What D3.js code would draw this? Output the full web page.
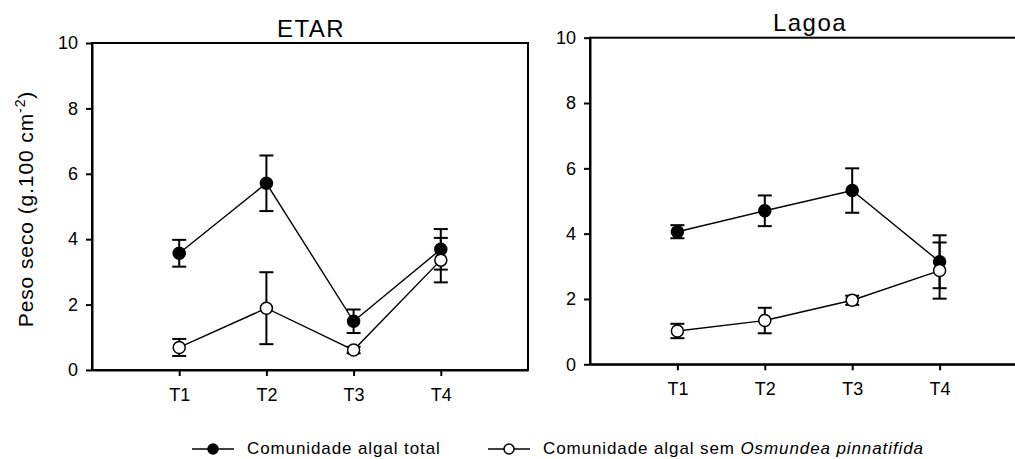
<!DOCTYPE html>
<html lang="en">
    <head>
        <meta charset="UTF-8" />
        <title>Peso seco - ETAR e Lagoa</title>
        <style>
            body {
                margin: 0;
                background: #fff;
                font-family: 'Liberation Sans', Arial, sans-serif;
            }

            .axis path,
            .axis line {
                stroke: #000;
                stroke-width: 2px;
            }

            .axis text {
                font: 18px 'Liberation Sans', Arial, sans-serif;
                fill: #000;
            }

            .frame {
                fill: none;
                stroke: #000;
                stroke-width: 2px;
            }

            .series-line {
                fill: none;
                stroke: #000;
                stroke-width: 1.4px;
            }

            .err {
                stroke: #000;
                stroke-width: 2px;
            }
        </style>
    </head>

    <body>
        <svg width="1015" height="459"></svg>
        <script src="https://d3js.org/d3.v7.min.js"></script>
        <script>
            // values
            const times = ['T1', 'T2', 'T3', 'T4'];
            const yTicks = [0, 2, 4, 6, 8, 10];

            const etarTotal = [3.57, 5.71, 1.49, 3.69];
            const etarTotalErr = [0.41, 0.85, 0.36, 0.62];
            const etarSem = [0.69, 1.89, 0.61, 3.36];
            const etarSemErr = [0.26, 1.1, 0.1, 0.68];

            const lagoaTotal = [4.06, 4.7, 5.32, 3.14];
            const lagoaTotalErr = [0.2, 0.47, 0.68, 0.81];
            const lagoaSem = [1.02, 1.34, 1.96, 2.87];
            const lagoaSemErr = [0.22, 0.39, 0.14, 0.86];

            const legendLabels = ['Comunidade algal total', 'Comunidade algal sem '];

            const svg = d3.select('svg');

            function panel(opts) {
                const x = d3.scaleLinear().domain([0, 5]).range([opts.left, opts.right]);
                const y = d3.scaleLinear().domain([0, 10]).range([opts.bottom, opts.top]);
                const g = svg.append('g');

                // box
                g.append('rect')
                    .attr('class', 'frame')
                    .attr('x', opts.left)
                    .attr('y', opts.top)
                    .attr('width', opts.right - opts.left)
                    .attr('height', opts.bottom - opts.top);

                g.append('g')
                    .attr('class', 'axis')
                    .attr('transform', `translate(${opts.left},0)`)
                    .call(d3.axisLeft(y).tickValues(yTicks).tickSize(6).tickSizeOuter(0).tickPadding(8));

                g.append('g')
                    .attr('class', 'axis')
                    .attr('transform', `translate(0,${opts.bottom})`)
                    .call(
                        d3
                            .axisBottom(x)
                            .tickValues([1, 2, 3, 4])
                            .tickFormat((d) => times[d - 1])
                            .tickSize(6)
                            .tickSizeOuter(0)
                            .tickPadding(12)
                    );

                g.append('text')
                    .attr('x', opts.titleX)
                    .attr('y', opts.titleY)
                    .attr('text-anchor', 'middle')
                    .style('font-size', '24px')
                    .style('letter-spacing', '1.5px')
                    .text(opts.title);

                const line = d3
                    .line()
                    .x((d, i) => x(i + 1))
                    .y((d) => y(d));

                [
                    { vals: opts.total, errs: opts.totalErr, fill: '#000' },
                    { vals: opts.sem, errs: opts.semErr, fill: '#fff' },
                ].forEach((s) => {
                    const sg = g.append('g');
                    sg.append('path').attr('class', 'series-line').attr('d', line(s.vals));

                    const eb = sg
                        .selectAll('g.eb')
                        .data(s.vals)
                        .enter()
                        .append('g')
                        .attr('class', 'eb');
                    eb.append('line')
                        .attr('class', 'err')
                        .attr('x1', (d, i) => x(i + 1))
                        .attr('x2', (d, i) => x(i + 1))
                        .attr('y1', (d, i) => y(d - s.errs[i]))
                        .attr('y2', (d, i) => y(d + s.errs[i]));
                    [-1, 1].forEach((sign) => {
                        eb.append('line')
                            .attr('class', 'err')
                            .attr('x1', (d, i) => x(i + 1) - 7)
                            .attr('x2', (d, i) => x(i + 1) + 7)
                            .attr('y1', (d, i) => y(d + sign * s.errs[i]))
                            .attr('y2', (d, i) => y(d + sign * s.errs[i]));
                    });

                    sg.selectAll('circle')
                        .data(s.vals)
                        .enter()
                        .append('circle')
                        .attr('cx', (d, i) => x(i + 1))
                        .attr('cy', (d) => y(d))
                        .attr('r', 6)
                        .attr('fill', s.fill)
                        .attr('stroke', '#000')
                        .attr('stroke-width', 1.5);
                });
            }

            panel({
                left: 92,
                right: 528,
                top: 43,
                bottom: 370,
                title: 'ETAR',
                titleX: 311,
                titleY: 37,
                total: etarTotal,
                totalErr: etarTotalErr,
                sem: etarSem,
                semErr: etarSemErr,
            });

            panel({
                left: 590,
                right: 1027,
                top: 37.7,
                bottom: 364.3,
                title: 'Lagoa',
                titleX: 810,
                titleY: 31,
                total: lagoaTotal,
                totalErr: lagoaTotalErr,
                sem: lagoaSem,
                semErr: lagoaSemErr,
            });

            // y axis title
            const yl = svg
                .append('text')
                .attr('transform', 'translate(33,209) rotate(-90)')
                .attr('text-anchor', 'middle')
                .style('font-size', '21px')
                .style('letter-spacing', '0.9px');
            yl.append('tspan').text('Peso seco (g.100 cm');
            yl.append('tspan').attr('dy', -8).style('font-size', '14px').text('-2');
            yl.append('tspan').attr('dy', 8).text(')');

            // legend
            const legend = svg.append('g');
            const legendItems = [
                { x: 192, fill: '#000', label: legendLabels[0], italic: null },
                { x: 488, fill: '#fff', label: legendLabels[1], italic: 'Osmundea pinnatifida' },
            ];
            legendItems.forEach((it) => {
                legend
                    .append('line')
                    .attr('x1', it.x)
                    .attr('x2', it.x + 42)
                    .attr('y1', 449)
                    .attr('y2', 449)
                    .attr('stroke', '#000')
                    .attr('stroke-width', 1.5);
                legend
                    .append('circle')
                    .attr('cx', it.x + 21)
                    .attr('cy', 449)
                    .attr('r', 5)
                    .attr('fill', it.fill)
                    .attr('stroke', '#000')
                    .attr('stroke-width', 1.5);
                const t = legend
                    .append('text')
                    .attr('x', it.x + 55)
                    .attr('y', 454)
                    .style('font-size', '17px')
                    .style('letter-spacing', '0.9px');
                t.append('tspan').text(it.label);
                if (it.italic) t.append('tspan').style('font-style', 'italic').text(it.italic);
            });
        </script>
    </body>
</html>
